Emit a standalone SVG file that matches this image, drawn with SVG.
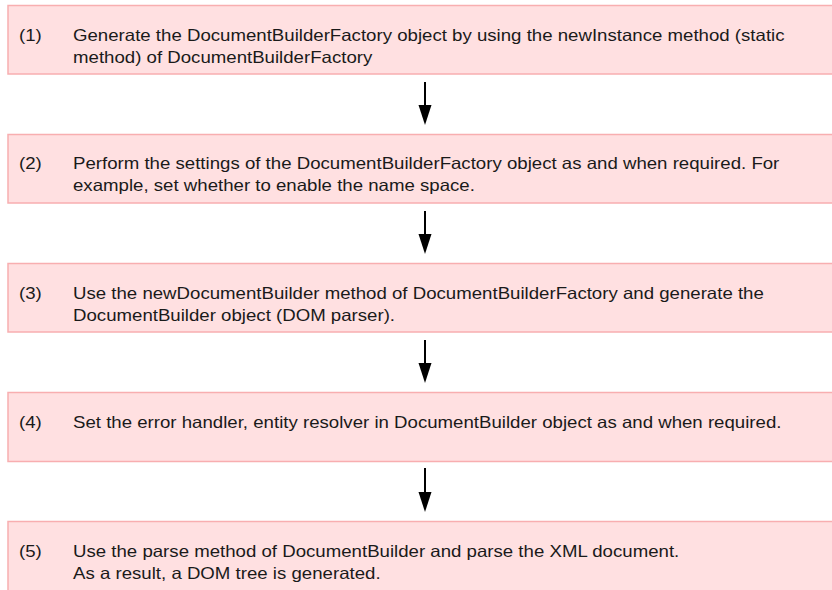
<svg xmlns="http://www.w3.org/2000/svg" width="832" height="590" viewBox="0 0 832 590">
<style>
.box{fill:#ffe0e1;stroke:#f8aeb0;stroke-width:1.5}
.t{font-family:"Liberation Sans",Arial,sans-serif;font-size:16.5px;fill:#1a1a1a}
.c{stroke:#000;stroke-width:2;fill:none}
</style>
<rect width="832" height="590" fill="#fff"/>
<g id="step1">
<rect class="box" x="8" y="5.5" width="840" height="68.5"/>
<text class="t" transform="translate(19,41) scale(1.13,1)">(1)</text>
<text class="t" transform="translate(73,41) scale(1.13,1)">Generate the DocumentBuilderFactory object by using the newInstance method (static</text>
<text class="t" transform="translate(73,63) scale(1.13,1)">method) of DocumentBuilderFactory</text>
</g>
<g id="step2">
<rect class="box" x="8" y="134.5" width="840" height="68.5"/>
<text class="t" transform="translate(19,169) scale(1.13,1)">(2)</text>
<text class="t" transform="translate(73,169) scale(1.13,1)">Perform the settings of the DocumentBuilderFactory object as and when required. For</text>
<text class="t" transform="translate(73,191) scale(1.13,1)">example, set whether to enable the name space.</text>
</g>
<g id="step3">
<rect class="box" x="8" y="263.5" width="840" height="68.5"/>
<text class="t" transform="translate(19,299) scale(1.13,1)">(3)</text>
<text class="t" transform="translate(73,299) scale(1.13,1)">Use the newDocumentBuilder method of DocumentBuilderFactory and generate the</text>
<text class="t" transform="translate(73,321) scale(1.13,1)">DocumentBuilder object (DOM parser).</text>
</g>
<g id="step4">
<rect class="box" x="8" y="392.5" width="840" height="69"/>
<text class="t" transform="translate(19,428) scale(1.13,1)">(4)</text>
<text class="t" transform="translate(73,428) scale(1.13,1)">Set the error handler, entity resolver in DocumentBuilder object as and when required.</text>
</g>
<g id="step5">
<rect class="box" x="8" y="521.5" width="840" height="80"/>
<text class="t" transform="translate(19,557) scale(1.13,1)">(5)</text>
<text class="t" transform="translate(73,557) scale(1.13,1)">Use the parse method of DocumentBuilder and parse the XML document.</text>
<text class="t" transform="translate(73,579) scale(1.13,1)">As a result, a DOM tree is generated.</text>
</g>
<g id="connectors">
<line class="c" x1="425" y1="82" x2="425" y2="106"/>
<path d="M418.5,105 L431.5,105 L425,125 Z"/>
<line class="c" x1="425" y1="211" x2="425" y2="235"/>
<path d="M418.5,234 L431.5,234 L425,254 Z"/>
<line class="c" x1="425" y1="340" x2="425" y2="364"/>
<path d="M418.5,363 L431.5,363 L425,383 Z"/>
<line class="c" x1="425" y1="468" x2="425" y2="493"/>
<path d="M418.5,492 L431.5,492 L425,512 Z"/>
</g>
</svg>
